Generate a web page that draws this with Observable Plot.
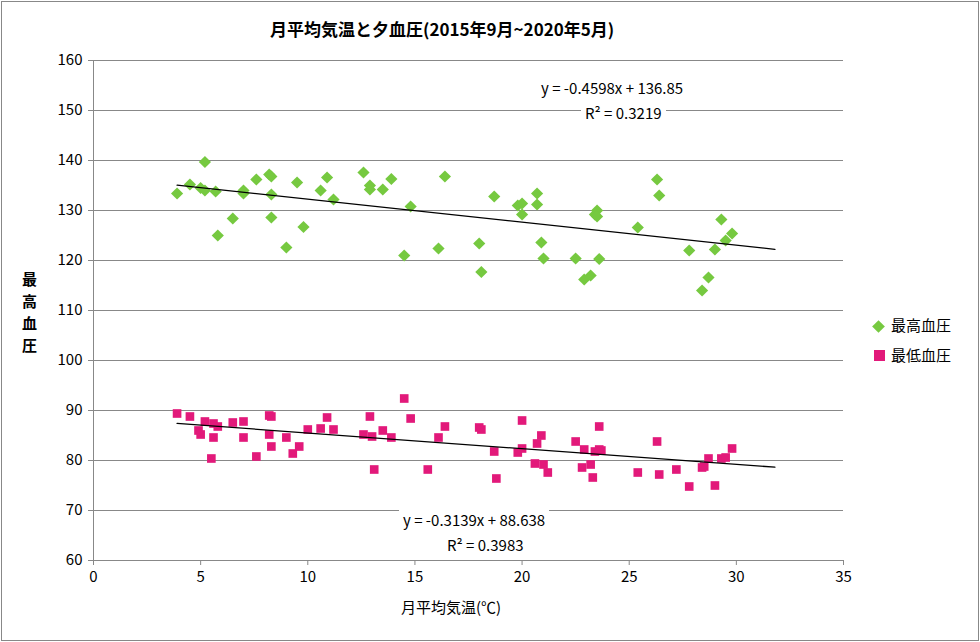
<!DOCTYPE html><html><head><meta charset="utf-8">
<script src="https://cdn.jsdelivr.net/npm/d3@7"></script>
<script src="https://cdn.jsdelivr.net/npm/@observablehq/plot@0.6"></script>
<style>
body{margin:0;background:#fff;font-family:"Noto Sans CJK JP",sans-serif}
#wrap{position:relative;width:980px;height:642px}
#frame{position:absolute;left:1px;top:1px;width:976px;height:638px;border:1px solid #888;pointer-events:none}
.t{position:absolute;font-size:15px;color:#000;white-space:nowrap}
</style></head><body><div id="wrap"><div id="frame"></div></div>
<script>
const sysX=[3.9,4.5,5.0,5.2,5.2,5.7,5.8,6.5,7.0,7.0,7.6,8.2,8.3,8.3,8.3,9.0,9.5,9.8,10.6,10.9,11.2,12.6,12.9,12.9,13.5,13.9,14.5,14.8,16.1,16.4,18.0,18.1,18.7,19.8,20.0,20.0,20.7,20.7,20.9,21.0,22.5,22.9,23.2,23.4,23.5,23.5,23.6,25.4,26.3,26.4,27.8,28.4,28.7,29.0,29.3,29.5,29.8];
const sysY=[133.4,135.2,134.5,139.7,134.0,133.8,125.0,128.4,134.0,133.4,136.2,137.2,136.8,133.2,128.6,122.6,135.6,126.7,134.0,136.6,132.2,137.6,135.0,134.2,134.2,136.3,121.0,130.8,122.4,136.8,123.4,117.7,132.8,131.0,131.4,129.2,133.4,131.2,123.6,120.4,120.4,116.2,117.0,129.2,130.0,128.8,120.3,126.6,136.2,133.0,122.0,114.0,116.6,122.2,128.2,124.0,125.4];
const diaX=[3.9,4.5,4.9,5.0,5.2,5.5,5.6,5.6,5.8,6.5,7.0,7.0,7.6,8.2,8.2,8.3,8.3,9.0,9.3,9.6,10.0,10.6,10.9,11.2,12.6,12.9,13.0,13.1,13.5,13.9,14.5,14.8,15.6,16.1,16.4,18.0,18.1,18.7,18.8,19.8,20.0,20.0,20.6,20.7,20.9,21.0,21.2,22.5,22.8,22.9,23.2,23.3,23.4,23.6,23.6,23.7,25.4,26.3,26.4,27.2,27.8,28.4,28.5,28.7,29.0,29.3,29.5,29.8];
const diaY=[89.4,88.8,86.0,85.2,87.8,80.4,84.6,87.4,86.8,87.6,87.8,84.6,80.8,89.0,85.2,82.8,88.8,84.6,81.4,82.8,86.2,86.4,88.6,86.2,85.2,88.8,84.8,78.2,86.0,84.6,92.4,88.4,78.2,84.6,86.8,86.6,86.2,81.8,76.4,81.6,82.4,88.0,79.4,83.4,85.0,79.2,77.6,83.8,78.6,82.2,79.2,76.6,81.8,82.2,86.8,82.0,77.6,83.8,77.2,78.2,74.8,78.6,78.8,80.4,75.0,80.4,80.6,82.4];
const trendRange=[3.9,31.8];
const sysFit=[-0.4598,136.85], diaFit=[-0.3139,88.638];
const xTicks=[0,5,10,15,20,25,30,35];
const yTicks=[60,70,80,90,100,110,120,130,140,150,160];

const sys=sysX.map((x,i)=>({x,y:sysY[i]}));
const dia=diaX.map((x,i)=>({x,y:diaY[i]}));
const line=f=>trendRange.map(x=>({x,y:f[0]*x+f[1]}));

const chart=Plot.plot({
  width:980,height:642,marginLeft:93,marginRight:137,marginTop:60,marginBottom:82,
  style:{fontFamily:"'Noto Sans CJK JP',sans-serif",fontSize:"15px",color:"#000"},
  x:{domain:[0,35],ticks:xTicks,label:null,tickSize:5},
  y:{domain:[60,160],ticks:yTicks,label:null,tickSize:5},
  marks:[
    Plot.gridY(yTicks,{stroke:"#888",strokeOpacity:1}),
    Plot.ruleX([0],{stroke:"#888"}),
    Plot.ruleY([60],{stroke:"#888"}),
    Plot.axisX({ticks:xTicks,tickSize:5,stroke:"#888",fontSize:15,tickPadding:6}),
    Plot.axisY({ticks:yTicks,tickSize:5,stroke:"#888",fontSize:15,tickPadding:6}),
    Plot.dot(sys,{x:"x",y:"y",symbol:"diamond2",r:5.5,fill:"#76c940",stroke:"none"}),
    Plot.dot(dia,{x:"x",y:"y",symbol:"square2",r:5.5,fill:"#e2197a",stroke:"none"}),
    Plot.line(line(sysFit),{x:"x",y:"y",stroke:"#000",strokeWidth:1.3}),
    Plot.line(line(diaFit),{x:"x",y:"y",stroke:"#000",strokeWidth:1.3}),
  ]
});
const wrap=document.getElementById("wrap");
chart.style.position="absolute";chart.style.left="0";chart.style.top="0";
wrap.prepend(chart);
function add(txt,l,t,extra=""){const d=document.createElement("div");d.className="t";d.style.cssText+=`left:${l}px;top:${t}px;${extra}`;d.innerHTML=txt;wrap.appendChild(d);}
add("月平均気温と夕血圧(2015年9月~2020年5月)",270,16,"font-size:17px;font-weight:bold");
add("月平均気温(℃)",401,596);
add("最<br>高<br>血<br>圧",22,268,"line-height:22px;font-weight:bold");
add(`y = ${sysFit[0]}x + ${sysFit[1]}`,537,77,"background:#fff;padding:0 4px");
add("R² = 0.3219",581,102,"background:#fff;padding:0 4px");
add(`y = ${diaFit[0]}x + ${diaFit[1]}`,399,509,"background:#fff;padding:0 4px");
add("R² = 0.3983",443,534,"background:#fff;padding:0 4px");
add('<span style="display:inline-block;width:9px;height:9px;background:#76c940;transform:rotate(45deg);margin-right:8px"></span>最高血圧',874,314);
add('<span style="display:inline-block;width:11px;height:11px;background:#e2197a;margin-right:6px"></span>最低血圧',874,344);
</script></body></html>
